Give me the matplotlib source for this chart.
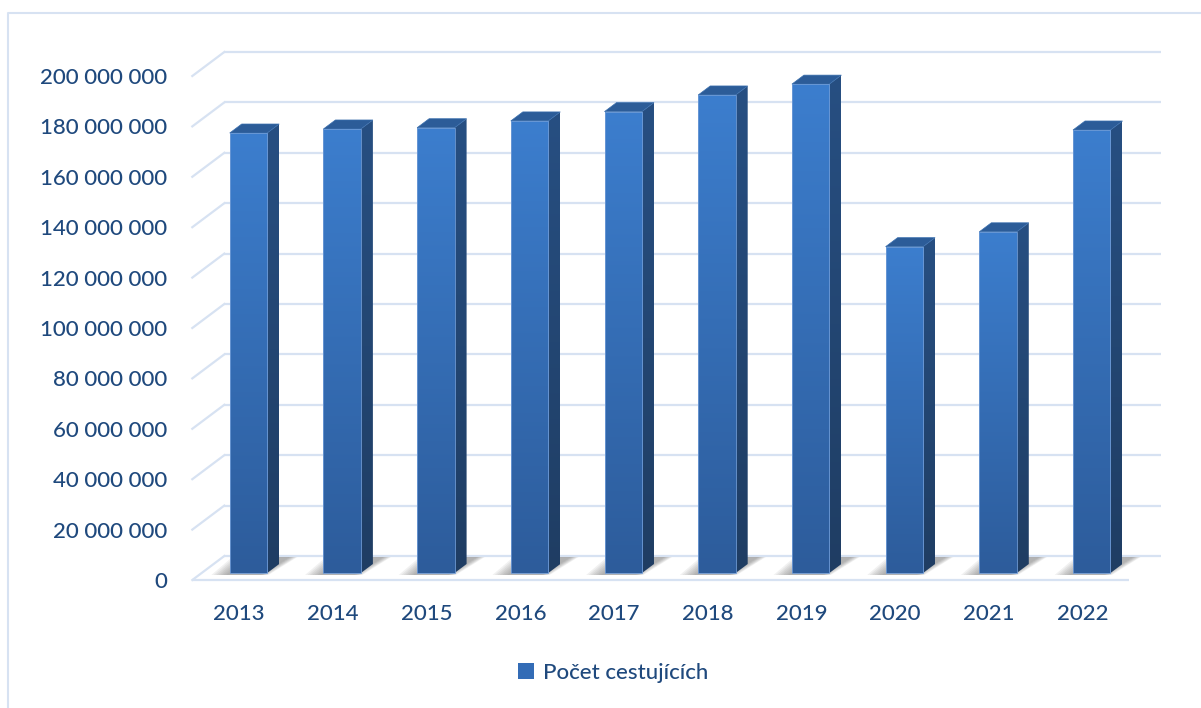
import numpy as np
import matplotlib
matplotlib.use("Agg")
import matplotlib.pyplot as plt
from matplotlib.patches import Polygon, Rectangle, Patch
from matplotlib.lines import Line2D
from matplotlib.colors import LinearSegmentedColormap
import matplotlib.transforms as mtransforms

# ---- data ----
years = ["2013", "2014", "2015", "2016", "2017", "2018", "2019", "2020", "2021", "2022"]
passengers = [174.6e6, 176.2e6, 176.7e6, 179.4e6, 183.1e6, 189.7e6, 194.0e6, 129.5e6, 135.4e6, 175.8e6]
series_name = "Počet cestujících"
y_ticks = [0, 20e6, 40e6, 60e6, 80e6, 100e6, 120e6, 140e6, 160e6, 180e6, 200e6]

def fmt(v):
    return f"{int(round(v)):,}".replace(",", " ")

# ---- style ----
TEXT = "#1f497d"
GRID = "#d7e2f2"
FONT = ["Lato", "DejaVu Sans"]
WEIGHT = "medium"
front_cmap = LinearSegmentedColormap.from_list("front", ["#2d5c9b", "#3c7ece"])
side_cmap = LinearSegmentedColormap.from_list("side", ["#1f3d63", "#274f82"])
TOP = "#2c5c98"

W, H = 1201, 708
fig = plt.figure(figsize=(W / 100, H / 100), dpi=100)
fig.patch.set_facecolor("white")

# axes = plane of the bar front faces
ax = fig.add_axes([201.6 / W, 135 / H, 937 / W, 504 / H])
ax.set_xlim(-0.5, len(years) - 0.5)
ax.set_ylim(0, 200e6)
ax.axis("off")

def off(dx, dy):
    # dx, dy in pixels (dy positive = upward)
    return ax.transData + mtransforms.ScaledTranslation(dx / 100, dy / 100, fig.dpi_scale_trans)

back = off(22.7, 17)
front = off(-9.3, -7)

x0, x1 = -0.5, len(years) - 0.5
# back wall gridlines + left diagonals
for v in y_ticks:
    ax.plot([x0, x1], [v, v], color=GRID, lw=1.6, transform=back, zorder=0.5, clip_on=False,
            solid_capstyle="butt")
    pb = back.transform((x0, v))
    pf = front.transform((x0, v))
    fig.add_artist(Line2D([pb[0] / W, pf[0] / W], [pb[1] / H, pf[1] / H], color=GRID, lw=1.6,
                          transform=fig.transFigure, zorder=0.5))
    ax.text(x0, v, fmt(v), transform=off(-9.3 - 25, -7), ha="right", va="center_baseline",
            fontsize=16, color=TEXT, family=FONT, fontweight=WEIGHT)
# floor front edge
ax.plot([x0, x1], [0, 0], color=GRID, lw=1.6, transform=front, zorder=0.5, clip_on=False,
        solid_capstyle="butt")

# depth of bars in data units
inv = ax.transData.inverted()
p0 = ax.transData.transform((0, 0))
p1 = inv.transform(p0 + np.array([12.0, 9.0]))
ddx, ddy = p1[0], p1[1]
px = inv.transform(p0 + np.array([1.0, 1.0]))
pxx, pxy = px[0], px[1]

half = 0.2
grad = np.linspace(0, 1, 256).reshape(-1, 1)
for i, v in enumerate(passengers):
    xl, xr = i - half, i + half
    # shadow on the floor (blurred, slanted along the depth direction)
    yb, yt = -2 * pxy, 16 * pxy
    slant = 21 * pxx
    for k in range(7):
        el = (4 + 2.4 * k) * pxx
        er = (1.2 * k) * pxx
        ax.add_patch(Polygon([(xl - el, yb), (xr + er - 6 * pxx, yb),
                              (xr + slant + er + 2 * pxx, yt), (xl + slant - el, yt)],
                             closed=True, facecolor="#666666", edgecolor="none",
                             alpha=0.09, zorder=1, clip_on=False))
    # side face
    side = Polygon([(xr, 0), (xr + ddx, ddy), (xr + ddx, v + ddy), (xr, v)], closed=True,
                   facecolor="none", edgecolor="none", zorder=3)
    ax.add_patch(side)
    im = ax.imshow(grad, extent=[xr, xr + ddx, 0, v + ddy], origin="lower", cmap=side_cmap,
                   aspect="auto", zorder=3, interpolation="bilinear")
    im.set_clip_path(side)
    # top face
    ax.add_patch(Polygon([(xl, v), (xr, v), (xr + ddx, v + ddy), (xl + ddx, v + ddy)], closed=True,
                         facecolor=TOP, edgecolor="#3a6fae", lw=0.5, zorder=3.2, clip_on=False))
    # front face
    rect = Rectangle((xl, 0), 2 * half, v, facecolor="none", edgecolor="none", zorder=3.5)
    ax.add_patch(rect)
    im2 = ax.imshow(grad, extent=[xl, xr, 0, v], origin="lower", cmap=front_cmap,
                    aspect="auto", zorder=3.5, interpolation="bilinear")
    im2.set_clip_path(rect)
    ax.add_patch(Rectangle((xl, 0), 2 * half, v, facecolor="none", edgecolor="#6f9bd6",
                           lw=0.6, zorder=3.6, clip_on=False))
    # category label
    ax.text(i, 0, years[i], transform=off(-9.3, -7 - 32), ha="center", va="center_baseline",
            fontsize=16, color=TEXT, family=FONT, fontweight=WEIGHT)

ax.set_xlim(-0.5, len(years) - 0.5)
ax.set_ylim(0, 200e6)

# legend
fig.legend(handles=[Patch(facecolor="#336cb6", edgecolor="none")], labels=[series_name],
           loc="center", bbox_to_anchor=(613 / W, 1 - 673 / H), frameon=False,
           handlelength=0.75, handleheight=0.75, handletextpad=0.4,
           prop={"family": FONT, "size": 16, "weight": WEIGHT}, labelcolor=TEXT)

# chart border (left and top visible)
fig.add_artist(Line2D([8 / W, 8 / W, 1.0], [0, 1 - 13 / H, 1 - 13 / H], color=GRID, lw=1.5,
                      transform=fig.transFigure))

fig.savefig("out.png", dpi=100, facecolor="white")
